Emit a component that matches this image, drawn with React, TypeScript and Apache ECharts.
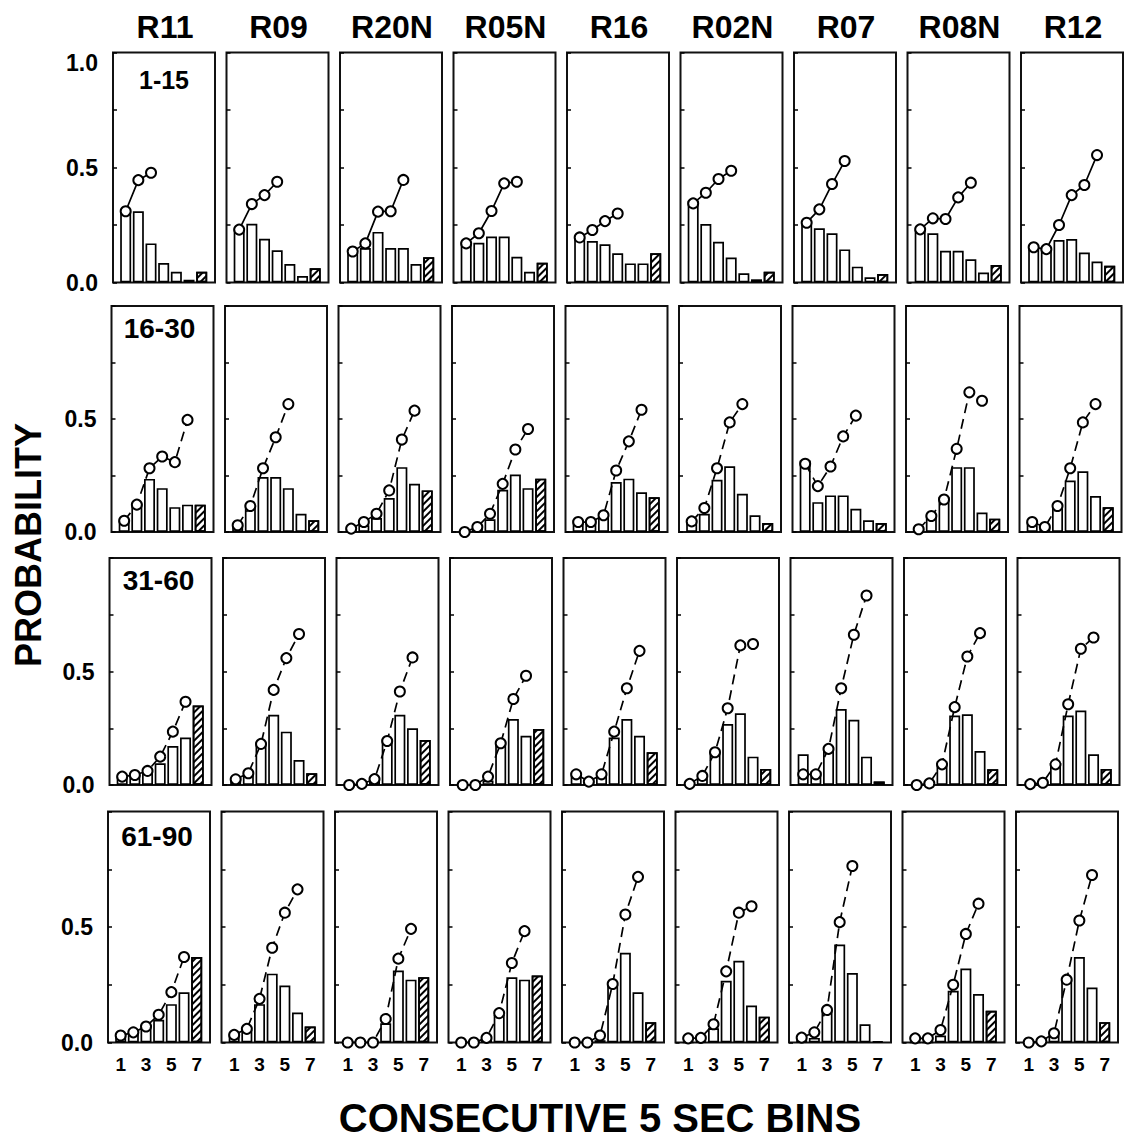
import React, { useEffect, useRef } from 'react';
import * as echarts from 'echarts';

const subjects = ['R11', 'R09', 'R20N', 'R05N', 'R16', 'R02N', 'R07', 'R08N', 'R12'];
const blocks = ['1-15', '16-30', '31-60', '61-90'];
const bins = [1, 2, 3, 4, 5, 6, 7];
const xTickLabels = ['1', '3', '5', '7'];
const yTickLabels = ['0.0', '0.5', '1.0'];

// Probability of a response in each 5-sec bin (bars; bin 7 hatched)
const probs1to15 = [
  [0.31, 0.31, 0.17, 0.085, 0.047, 0.012, 0.047],
  [0.23, 0.255, 0.19, 0.14, 0.08, 0.028, 0.062],
  [0.13, 0.15, 0.22, 0.15, 0.15, 0.08, 0.11],
  [0.175, 0.173, 0.2, 0.2, 0.112, 0.047, 0.086],
  [0.196, 0.18, 0.166, 0.127, 0.083, 0.083, 0.127],
  [0.355, 0.254, 0.177, 0.109, 0.04, 0.014, 0.047],
  [0.25, 0.236, 0.214, 0.144, 0.069, 0.023, 0.037],
  [0.228, 0.214, 0.138, 0.138, 0.101, 0.043, 0.076],
  [0.155, 0.144, 0.185, 0.189, 0.13, 0.091, 0.073],
];
const probs16to30 = [
  [0.05, 0.125, 0.235, 0.194, 0.11, 0.121, 0.121],
  [0.03, 0.121, 0.243, 0.243, 0.194, 0.081, 0.052],
  [0.015, 0.03, 0.062, 0.15, 0.287, 0.213, 0.184],
  [0.005, 0.015, 0.056, 0.187, 0.254, 0.194, 0.236],
  [0.052, 0.052, 0.074, 0.221, 0.236, 0.176, 0.154],
  [0.052, 0.081, 0.231, 0.291, 0.169, 0.074, 0.04],
  [0.316, 0.132, 0.162, 0.162, 0.103, 0.052, 0.04],
  [0.015, 0.074, 0.154, 0.287, 0.287, 0.086, 0.059],
  [0.044, 0.022, 0.125, 0.228, 0.269, 0.159, 0.11],
];
const probs31to60 = [
  [0.037, 0.044, 0.071, 0.096, 0.172, 0.209, 0.35],
  [0.03, 0.052, 0.187, 0.309, 0.235, 0.11, 0.052],
  [0.005, 0.01, 0.03, 0.2, 0.309, 0.25, 0.198],
  [0, 0, 0.02, 0.191, 0.291, 0.217, 0.247],
  [0.054, 0.02, 0.044, 0.209, 0.291, 0.217, 0.144],
  [0.007, 0.03, 0.147, 0.269, 0.316, 0.125, 0.071],
  [0.135, 0.059, 0.169, 0.335, 0.287, 0.125, 0.015],
  [0.005, 0.015, 0.103, 0.306, 0.312, 0.15, 0.069],
  [0.007, 0.015, 0.096, 0.306, 0.328, 0.135, 0.071],
];
const probs61to90 = [
  [0.036, 0.047, 0.076, 0.098, 0.166, 0.217, 0.37],
  [0.036, 0.054, 0.166, 0.298, 0.247, 0.13, 0.069],
  [0, 0, 0.005, 0.083, 0.312, 0.272, 0.283],
  [0, 0, 0.01, 0.12, 0.282, 0.272, 0.29],
  [0, 0, 0.01, 0.25, 0.388, 0.217, 0.088],
  [0, 0.005, 0.062, 0.267, 0.354, 0.16, 0.112],
  [0.01, 0.02, 0.141, 0.424, 0.301, 0.079, 0.005],
  [0, 0, 0.03, 0.224, 0.32, 0.21, 0.137],
  [0, 0.005, 0.03, 0.272, 0.37, 0.238, 0.088],
];

// Conditional probabilities (open circles)
const cond1to15 = [
  [0.31, 0.445, 0.477],
  [0.23, 0.341, 0.38, 0.438],
  [0.135, 0.17, 0.308, 0.31, 0.446],
  [0.17, 0.214, 0.311, 0.431, 0.438],
  [0.196, 0.228, 0.267, 0.3],
  [0.344, 0.39, 0.45, 0.486],
  [0.26, 0.318, 0.428, 0.528],
  [0.231, 0.279, 0.276, 0.37, 0.434],
  [0.153, 0.145, 0.25, 0.38, 0.424, 0.554],
];
const cond16to30 = [
  [0.05, 0.121, 0.282, 0.334, 0.309, 0.496],
  [0.03, 0.115, 0.282, 0.419, 0.566],
  [0.015, 0.044, 0.081, 0.184, 0.409, 0.537],
  [0.0, 0.022, 0.081, 0.213, 0.365, 0.456],
  [0.044, 0.044, 0.074, 0.272, 0.401, 0.541],
  [0.047, 0.106, 0.282, 0.485, 0.566],
  [0.302, 0.203, 0.29, 0.423, 0.515],
  [0.012, 0.071, 0.144, 0.368, 0.618, 0.581],
  [0.044, 0.022, 0.115, 0.282, 0.485, 0.566],
];
const cond31to60 = [
  [0.037, 0.044, 0.062, 0.125, 0.235, 0.367],
  [0.025, 0.052, 0.181, 0.419, 0.559, 0.665],
  [0.0, 0.005, 0.026, 0.194, 0.412, 0.562],
  [0, 0, 0.037, 0.184, 0.379, 0.481],
  [0.047, 0.015, 0.047, 0.235, 0.426, 0.591],
  [0.005, 0.04, 0.144, 0.338, 0.615, 0.621],
  [0.047, 0.047, 0.159, 0.426, 0.662, 0.835],
  [0.0, 0.007, 0.091, 0.343, 0.566, 0.669],
  [0.004, 0.01, 0.091, 0.356, 0.6, 0.65],
];
const cond61to90 = [
  [0.03, 0.044, 0.069, 0.12, 0.218, 0.37],
  [0.033, 0.059, 0.189, 0.41, 0.562, 0.663],
  [0, 0, 0, 0.102, 0.363, 0.492],
  [0, 0, 0.02, 0.127, 0.344, 0.482],
  [0, 0, 0.03, 0.253, 0.554, 0.717],
  [0.018, 0.02, 0.079, 0.308, 0.562, 0.59],
  [0.021, 0.044, 0.141, 0.521, 0.764],
  [0.018, 0.018, 0.054, 0.25, 0.47, 0.601],
  [0, 0.005, 0.04, 0.272, 0.528, 0.725],
];

const probsByBlock = [probs1to15, probs16to30, probs31to60, probs61to90];
const condByBlock = [cond1to15, cond16to30, cond31to60, cond61to90];

const W = 1131;
const H = 1143;
const FONT = '"Liberation Sans", Arial, Helvetica, sans-serif';
const rowLeft = [113, 111.5, 109.5, 108];
const rowTop = [52.5, 306, 558, 811.5];
const rowH = [230, 226, 227, 231];
const colPitch = 113.5;
const panelW = 102;
const blockLabelPos = [
  { x: 51, y: 27, size: 25 },
  { x: 48, y: 22, size: 28 },
  { x: 49, y: 22, size: 28 },
  { x: 49, y: 25, size: 28 },
];

function buildOption() {
  const grid: any[] = [];
  const xAxis: any[] = [];
  const yAxis: any[] = [];
  const series: any[] = [];
  const graphic: any[] = [];

  const hatch = {
    symbol: 'rect',
    symbolSize: 1,
    color: '#000',
    backgroundColor: '#fff',
    dashArrayX: [1, 0],
    dashArrayY: [1.4, 2.4],
    rotation: -Math.PI / 4,
  };

  blocks.forEach((block, r) => {
    subjects.forEach((subj, c) => {
      const i = r * subjects.length + c;
      grid.push({
        left: rowLeft[r] + c * colPitch,
        top: rowTop[r],
        width: panelW,
        height: rowH[r],
        show: true,
        borderColor: '#111',
        borderWidth: 2,
        backgroundColor: 'rgba(0,0,0,0)',
      });
      xAxis.push({
        gridIndex: i,
        type: 'value',
        min: 0,
        max: 8.05,
        interval: 1,
        axisLine: { show: false },
        axisTick: { show: false },
        splitLine: { show: false },
        axisLabel: {
          show: r === blocks.length - 1,
          showMaxLabel: false,
          formatter: (v: number) => (xTickLabels.includes(String(v)) ? String(v) : ''),
          fontSize: 19,
          fontWeight: 'bold',
          fontFamily: FONT,
          color: '#000',
          margin: 12,
        },
      });
      yAxis.push({
        gridIndex: i,
        type: 'value',
        min: 0,
        max: 1,
        interval: 0.25,
        axisLine: { show: false },
        splitLine: { show: false },
        axisTick: { show: true, inside: true, length: 4, lineStyle: { color: '#000', width: 1.5 } },
        axisLabel: {
          show: c === 0,
          fontSize: 23,
          fontWeight: 'bold',
          fontFamily: FONT,
          color: '#000',
          margin: 15,
          formatter: (v: number) => {
            if (v === 0) return yTickLabels[0];
            if (v === 0.5) return yTickLabels[1];
            if (v === 1 && r === 0) return '{top|' + yTickLabels[2] + '}';
            return '';
          },
          rich: {
            top: { fontSize: 23, fontWeight: 'bold', fontFamily: FONT, color: '#000', padding: [20, 0, 0, 0] },
          },
        },
      });
      const p = probsByBlock[r][c];
      series.push({
        type: 'bar',
        xAxisIndex: i,
        yAxisIndex: i,
        barWidth: 11,
        silent: true,
        itemStyle: { color: '#fff', borderColor: '#000', borderWidth: 1.7 },
        data: bins.map((b, k) =>
          k === bins.length - 1
            ? { value: [b, p[k]], itemStyle: { color: '#fff', decal: hatch } }
            : [b, p[k]]
        ),
        z: 2,
      });
      const q = condByBlock[r][c];
      series.push({
        type: 'line',
        xAxisIndex: i,
        yAxisIndex: i,
        silent: true,
        symbol: 'circle',
        symbolSize: 10,
        showSymbol: true,
        itemStyle: { color: '#fff', borderColor: '#000', borderWidth: 2 },
        lineStyle: { color: '#000', width: 1.7, type: r === 0 ? 'solid' : [10, 6] },
        data: q.map((v, k) => [bins[k], v]),
        z: 3,
      });
    });
    graphic.push({
      type: 'text',
      x: rowLeft[r] + blockLabelPos[r].x,
      y: rowTop[r] + blockLabelPos[r].y,
      style: {
        text: block,
        fill: '#000',
        font: `bold ${blockLabelPos[r].size}px ${FONT}`,
        textAlign: 'center',
        textVerticalAlign: 'middle',
      },
      z: 10,
    });
  });

  subjects.forEach((subj, c) => {
    graphic.push({
      type: 'text',
      x: rowLeft[0] + c * colPitch + panelW / 2 + 1,
      y: 27,
      style: {
        text: subj,
        fill: '#000',
        font: `bold 32px ${FONT}`,
        textAlign: 'center',
        textVerticalAlign: 'middle',
      },
    });
  });

  graphic.push({
    type: 'text',
    x: 28,
    y: 545,
    rotation: Math.PI / 2,
    style: {
      text: 'PROBABILITY',
      fill: '#000',
      font: `bold 36px ${FONT}`,
      textAlign: 'center',
      textVerticalAlign: 'middle',
    },
  });
  graphic.push({
    type: 'text',
    x: 600,
    y: 1118,
    style: {
      text: 'CONSECUTIVE 5 SEC BINS',
      fill: '#000',
      font: `bold 40px ${FONT}`,
      textAlign: 'center',
      textVerticalAlign: 'middle',
    },
  });

  return {
    animation: false,
    backgroundColor: '#fff',
    grid,
    xAxis,
    yAxis,
    series,
    graphic,
  };
}

export default function App() {
  const ref = useRef<HTMLDivElement>(null);
  useEffect(() => {
    if (!ref.current) return;
    const chart = echarts.init(ref.current, undefined, { renderer: 'svg', width: W, height: H });
    chart.setOption(buildOption() as any);
    return () => chart.dispose();
  }, []);
  return (
    <div
      ref={ref}
      style={{ position: 'absolute', left: 0, top: 0, width: W, height: H, background: '#fff' }}
    />
  );
}
